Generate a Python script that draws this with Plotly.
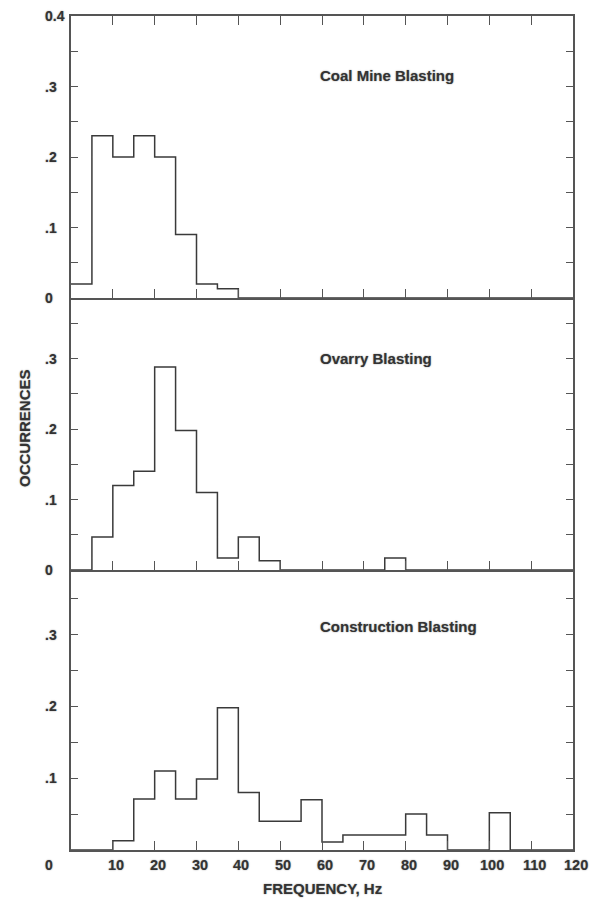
import plotly.graph_objects as go

# ---- data ----
bin_edges = [0, 5, 10, 15, 20, 25, 30, 35, 40, 45, 50, 55, 60, 65, 70, 75, 80, 85, 90, 95, 100, 105, 110, 115, 120]
coal_mine = [0.02, 0.23, 0.20, 0.23, 0.20, 0.09, 0.02, 0.013, 0, 0, 0, 0, 0, 0, 0, 0, 0, 0, 0, 0, 0, 0, 0, 0]
quarry = [0, 0.047, 0.12, 0.14, 0.288, 0.198, 0.11, 0.017, 0.047, 0.013, 0, 0, 0, 0, 0, 0.017, 0, 0, 0, 0, 0, 0, 0, 0]
construction = [0, 0, 0.013, 0.071, 0.11, 0.071, 0.099, 0.198, 0.08, 0.04, 0.04, 0.07, 0.011, 0.021, 0.021, 0.021, 0.05, 0.021, 0, 0, 0.052, 0, 0, 0]

panel_names = ["Coal Mine Blasting", "Ovarry Blasting", "Construction Blasting"]
x_tick_vals = [10, 20, 30, 40, 50, 60, 70, 80, 90, 100, 110, 120]
x_tick_text = ["10", "20", "30", "40", "50", "60", "70", "80", "90", "100", "110", "120"]
y_tick_sets = [
    ([0.4, 0.3, 0.2, 0.1, 0], ["0.4", ".3", ".2", ".1", "0"]),
    ([0.3, 0.2, 0.1, 0], [".3", ".2", ".1", "0"]),
    ([0.3, 0.2, 0.1], [".3", ".2", ".1"]),
]
y_ranges = [[0, 0.4], [0, 0.386], [0, 0.39]]

# ---- layout geometry ----
W, H = 602, 899
ML, MR, MT, MB = 71, 29, 16, 49
plot_h = H - MT - MB
p1 = 282 / plot_h
p2 = 272 / plot_h
domains = [[1 - p1, 1], [1 - p1 - p2, 1 - p1], [0, 1 - p1 - p2]]

AXC = "#555555"
TXT = "#333333"
FONT = "Liberation Sans, Arial, sans-serif"
shadow = "0px 0px 1.5px #888"

fig = go.Figure()
series = [coal_mine, quarry, construction]
for i, vals in enumerate(series):
    sfx = "" if i == 0 else str(i + 1)
    fig.add_trace(go.Scatter(
        x=bin_edges, y=vals + [vals[-1]], mode="lines", line_shape="hv",
        line=dict(color="#3a3a3a", width=1.5),
        xaxis="x" + sfx, yaxis="y" + sfx, showlegend=False, hoverinfo="skip"))

layout = dict(
    width=W, height=H, margin=dict(l=ML, r=MR, t=MT, b=MB),
    paper_bgcolor="white", plot_bgcolor="white", showlegend=False,
    font=dict(family=FONT, color=TXT),
)
for i in range(3):
    sfx = "" if i == 0 else str(i + 1)
    xa = dict(
        range=[0, 120], domain=[0, 1], anchor="y" + sfx,
        showgrid=False, zeroline=False, showline=True, linecolor=AXC, linewidth=1.5,
        ticks="inside", ticklen=9, tickwidth=1.2, tickcolor=AXC,
        tickvals=x_tick_vals[:-1], showticklabels=False,
        mirror="ticks" if i == 0 else False,
    )
    if i > 0:
        xa["matches"] = "x"
    ya = dict(
        range=y_ranges[i], domain=domains[i], anchor="x" + sfx,
        showgrid=False, zeroline=False, showline=True, linecolor=AXC, linewidth=1.5,
        ticks="inside", ticklen=7, tickwidth=1.2, tickcolor=AXC,
        dtick=0.05, tick0=0, showticklabels=False, mirror="ticks",
    )
    layout["xaxis" + sfx] = xa
    layout["yaxis" + sfx] = ya
fig.update_layout(**layout)

annotations = []
# y tick labels (left aligned)
lab_x = (43 - ML) / (W - ML - MR)
for i, (vals, texts) in enumerate(y_tick_sets):
    sfx = "" if i == 0 else str(i + 1)
    for v, t in zip(vals, texts):
        annotations.append(dict(
            x=lab_x, xref="paper", y=v, yref="y" + sfx, text="<b>" + t + "</b>",
            showarrow=False, xanchor="left", yanchor="middle",
            font=dict(size=14, color=TXT, family=FONT, shadow=shadow)))
# x tick labels
for v, t in zip(x_tick_vals, x_tick_text):
    annotations.append(dict(
        x=v, xref="x3", y=0, yref="y3", yshift=-15, xshift=3, text="<b>" + t + "</b>",
        showarrow=False, xanchor="center", yanchor="middle",
        font=dict(size=14.5, color=TXT, family=FONT, shadow=shadow)))
# corner zero label
annotations.append(dict(
    x=lab_x, xref="paper", y=0, yref="y3", yshift=-15, text="<b>0</b>",
    showarrow=False, xanchor="left", yanchor="middle",
    font=dict(size=14, color=TXT, family=FONT, shadow=shadow)))
# panel titles
for i, name in enumerate(panel_names):
    sfx = "" if i == 0 else str(i + 1)
    ypos = [0.316, 0.300, 0.311][i]
    annotations.append(dict(
        x=59, xref="x" + sfx, y=ypos, yref="y" + sfx, text="<b>" + name + "</b>",
        showarrow=False, xanchor="left", yanchor="middle",
        font=dict(size=15, color=TXT, family=FONT, shadow=shadow)))
# axis titles
annotations.append(dict(
    x=0.5, xref="paper", y=0, yref="paper", yshift=-38, text="<b>FREQUENCY, Hz</b>",
    showarrow=False, xanchor="center", yanchor="middle",
    font=dict(size=15, color=TXT, family=FONT, shadow=shadow)))
annotations.append(dict(
    x=(24 - ML) / (W - ML - MR), xref="paper", y=(H - MB - 428) / plot_h, yref="paper",
    text="<b>OCCURRENCES</b>", textangle=-90,
    showarrow=False, xanchor="center", yanchor="middle",
    font=dict(size=15, color=TXT, family=FONT, shadow=shadow)))

fig.update_layout(annotations=annotations)
fig.write_html("out.html")
